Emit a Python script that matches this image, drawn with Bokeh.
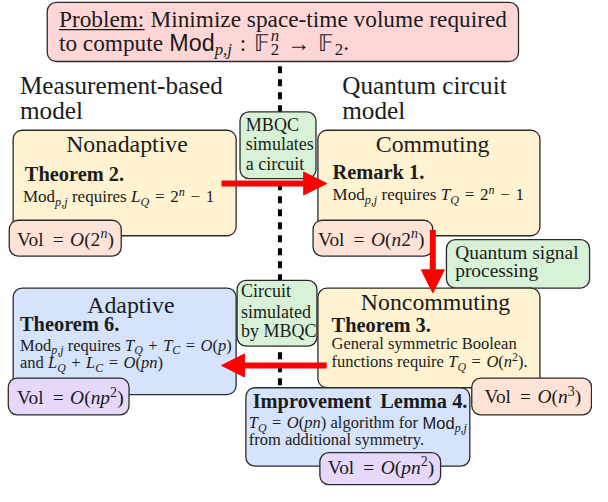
from bokeh.plotting import figure
from bokeh.models import Range1d, ColumnDataSource, Arrow, NormalHead
from bokeh.embed import file_html
from bokeh.resources import INLINE

# ---------------- reference frame (pixels of the original drawing, y downwards)
W_REF, H_REF = 608, 502
PW, PH = 592, 486
FS = (PW / W_REF + PH / H_REF) / 2  # font scale from drawing px to screen px
BASE_K = 0.35  # renderer places the em-box centre at y: shift so y is the baseline

# ---------------- boxes (left, right, top, bottom, colour)
box_left   = [48, 246, 13, 9, 326, 321, 458, 326, 13, 243, 484, 252, 328, 8]
box_right  = [532, 324, 242, 124, 554, 444, 605, 554, 242, 325, 607, 482, 452, 132]
box_top    = [2, 115, 134, 227, 134, 227, 247, 297, 297, 289, 390, 400, 467, 390]
box_bottom = [63, 184, 243, 264, 243, 264, 297, 400, 407, 357, 428, 481, 500, 428]
box_kind   = ["problem", "sim", "model", "vol", "model", "vol", "sim", "model",
              "adaptive", "sim", "vol", "adaptive", "vol2", "vol2"]
FILLS = {"problem": "#ffd6d6", "sim": "#d7f2d7", "model": "#fff3d2",
         "vol": "#ffe3d6", "adaptive": "#d5e3fc", "vol2": "#e5d8fb"}

# ---------------- red arrows (start -> end)
arrow_x0 = [227, 444, 335]
arrow_y0 = [189, 237, 377]
arrow_x1 = [335, 444, 227]
arrow_y1 = [189, 302, 377]

# ---------------- dashed divider
divider_x = [287, 287]
divider_y = [68, 400]

# ---------------- texts: (x, baseline y, size, align, segments)
# segment kinds: r roman, u underlined, b bold, i italic, s sans, op math operator,
# sub/isub subscripts, sup/isup superscripts; third item False = no advance
text_lines = [
    (60, 27, 24, "left", [("Problem:", "u"), (" Minimize space-time volume required", "r")]),
    (60, 52, 24, "left", [("to compute ", "r"), ("Mod", "s"), ("p,j", "isub"), (" : ", "op"),
                          ("\U0001D53D", "r"), ("2", "sub", False), ("n", "isup"),
                          (" \u2192 ", "op"), ("\U0001D53D", "r"), ("2", "sub"), (".", "r")]),
    (20, 97, 26, "left", [("Measurement-based", "r")]),
    (20, 123, 26, "left", [("model", "r")]),
    (351, 97, 26, "left", [("Quantum circuit", "r")]),
    (351, 123, 26, "left", [("model", "r")]),
    (252, 135, 18.5, "left", [("MBQC", "r")]),
    (252, 155, 18.5, "left", [("simulates", "r")]),
    (252, 175, 18.5, "left", [("a circuit", "r")]),
    (130, 157, 24.5, "center", [("Nonadaptive", "r")]),
    (25, 187, 21, "left", [("Theorem 2.", "b")]),
    (23, 209, 17.5, "left", [("Mod", "r"), ("p,j", "isub"), (" requires ", "r"), ("L", "i"), ("Q", "isub"),
                             (" = ", "op"), ("2", "r"), ("n", "isup"), (" \u2212 ", "op"), ("1", "r")]),
    (17, 254, 20, "left", [("Vol", "r"), (" = ", "op"), ("O", "i"), ("(2", "r"), ("n", "isup"), (")", "r")]),
    (444, 157, 24.5, "center", [("Commuting", "r")]),
    (341, 185, 21, "left", [("Remark 1.", "b")]),
    (341, 207, 17.5, "left", [("Mod", "r"), ("p,j", "isub"), (" requires ", "r"), ("T", "i"), ("Q", "isub"),
                              (" = ", "op"), ("2", "r"), ("n", "isup"), (" \u2212 ", "op"), ("1", "r")]),
    (326, 254, 20, "left", [("Vol", "r"), (" = ", "op"), ("O", "i"), ("(", "r"), ("n", "i"), ("2", "r"),
                            ("n", "isup"), (")", "r")]),
    (467, 267, 20, "left", [("Quantum signal", "r")]),
    (467, 286, 20, "left", [("processing", "r")]),
    (447, 320, 24.5, "center", [("Noncommuting", "r")]),
    (340, 343, 21, "left", [("Theorem 3.", "b")]),
    (340, 360, 17, "left", [("General symmetric Boolean", "r")]),
    (340, 379, 17, "left", [("functions require ", "r"), ("T", "i"), ("Q", "isub"), (" = ", "op"),
                            ("O", "i"), ("(", "r"), ("n", "i"), ("2", "sup"), (").", "r")]),
    (497, 416, 20, "left", [("Vol", "r"), (" = ", "op"), ("O", "i"), ("(", "r"), ("n", "i"), ("3", "sup"), (")", "r")]),
    (134, 323, 24.5, "center", [("Adaptive", "r")]),
    (20, 342, 21, "left", [("Theorem 6.", "b")]),
    (20, 362, 17, "left", [("Mod", "r"), ("p,j", "isub"), (" requires ", "r"), ("T", "i"), ("Q", "isub"),
                           (" + ", "op"), ("T", "i"), ("C", "isub"), (" = ", "op"), ("O", "i"),
                           ("(", "r"), ("p", "i"), (")", "r")]),
    (20, 380, 17, "left", [("and ", "r"), ("L", "i"), ("Q", "isub"), (" + ", "op"), ("L", "i"),
                           ("C", "isub"), (" = ", "op"), ("O", "i"), ("(", "r"), ("pn", "i"), (")", "r")]),
    (17, 417, 20, "left", [("Vol", "r"), (" = ", "op"), ("O", "i"), ("(", "r"), ("np", "i"), ("2", "sup"), (")", "r")]),
    (247, 307, 18.5, "left", [("Circuit", "r")]),
    (247, 328, 18.5, "left", [("simulated", "r")]),
    (247, 348, 18.5, "left", [("by MBQC", "r")]),
    (259, 421, 21, "left", [("Improvement", "b")]),
    (390, 421, 21, "left", [("Lemma 4.", "b")]),
    (255, 442, 17, "left", [("T", "i"), ("Q", "isub"), (" = ", "op"), ("O", "i"), ("(", "r"), ("pn", "i"),
                            (") algorithm for ", "r"), ("Mod", "s"), ("p,j", "isub")]),
    (255, 459, 17, "left", [("from additional symmetry.", "r")]),
    (336, 489, 20, "left", [("Vol", "r"), (" = ", "op"), ("O", "i"), ("(", "r"), ("pn", "i"), ("2", "sup"), (")", "r")]),
]

# ---------------- approximate glyph advances (per 1000 em) for layout
UP = "ABCDEFGHIJKLMNOPQRSTUVWXYZ"
LO = "abcdefghijklmnopqrstuvwxyz"
W_R = dict(zip(UP + LO, [722,667,667,722,611,556,722,722,333,389,722,611,889,722,722,556,722,667,556,611,722,722,944,722,722,611,
                         444,500,444,500,444,333,500,500,278,278,500,278,778,500,500,500,500,333,389,278,500,500,722,500,500,444]))
W_I = dict(zip(UP + LO, [611,611,667,722,611,611,722,722,333,444,667,556,833,667,722,611,722,611,500,556,722,611,833,611,556,556,
                         500,500,444,500,444,278,500,500,278,278,444,278,722,500,500,500,500,389,389,278,500,444,667,444,444,389]))
W_B = dict(zip(UP + LO, [722,667,722,722,667,611,778,778,389,500,778,667,944,722,778,611,778,722,556,667,722,722,1000,722,722,667,
                         500,556,444,556,444,333,500,556,278,333,556,278,833,556,500,556,556,444,389,333,556,500,722,500,500,444]))
W_S = dict(zip(UP + LO, [667,667,722,722,667,611,778,722,278,500,667,556,833,722,778,667,778,722,667,611,722,667,944,667,667,611,
                         556,556,500,556,556,278,556,556,222,222,500,222,833,556,556,556,556,333,500,278,556,500,722,500,500,500]))
COMMON = {" ": 250, ".": 250, ",": 250, ":": 278, "-": 333, "(": 333, ")": 333, "=": 564, "+": 564,
          "\u2212": 564, "\u2192": 1000, "\U0001D53D": 720}
for d in (W_R, W_I, W_B, W_S):
    for ch in "0123456789":
        d[ch] = 500
    d.update(COMMON)
W_OP = dict(W_R)
W_OP[" "] = 330  # math spacing around relations and binary operators

KINDS = {
    "r": ("Liberation Serif", "normal", 1.0, 0.0, W_R),
    "u": ("Liberation Serif", "normal", 1.0, 0.0, W_R),
    "op": ("Liberation Serif", "normal", 1.0, 0.0, W_OP),
    "b": ("Liberation Serif", "bold", 1.0, 0.0, W_B),
    "i": ("Liberation Serif", "italic", 1.0, 0.0, W_I),
    "s": ("Liberation Sans", "normal", 1.0, 0.0, W_S),
    "sub": ("Liberation Serif", "normal", 0.72, -0.2, W_R),
    "isub": ("Liberation Serif", "italic", 0.72, -0.2, W_I),
    "sup": ("Liberation Serif", "normal", 0.72, 0.4, W_R),
    "isup": ("Liberation Serif", "italic", 0.72, 0.4, W_I),
}


def seg_width(text, kind, size):
    table = KINDS[kind][4]
    sc = KINDS[kind][2]
    return sum(table.get(c, 500) for c in text) / 1000.0 * size * sc


tx, ty, tt, tf, tsz, tst = [], [], [], [], [], []
ul_x0, ul_x1, ul_y = [], [], []
for (lx, ly, size, align, segs) in text_lines:
    total = 0.0
    for seg in segs:
        if len(seg) < 3 or seg[2]:
            total += seg_width(seg[0], seg[1], size)
    cx = lx - total / 2 if align == "center" else lx
    for seg in segs:
        text, kind = seg[0], seg[1]
        font, style, sc, dy, table = KINDS[kind]
        w = seg_width(text, kind, size)
        lead = len(text) - len(text.lstrip(" "))
        body = text.strip(" ")
        x_draw = cx + seg_width(" " * lead, kind, size)
        if body:
            tx.append(x_draw)
            ty.append(H_REF - ly + dy * size + BASE_K * size * sc)
            tt.append(body)
            tf.append(font)
            tsz.append("%.1fpx" % (size * sc * FS))
            tst.append(style)
        if kind == "u":
            ul_x0.append(x_draw)
            ul_x1.append(x_draw + seg_width(body, kind, size))
            ul_y.append(H_REF - ly - 3)
        if len(seg) < 3 or seg[2]:
            cx += w

p = figure(width=PW, height=PH, x_range=Range1d(0, W_REF), y_range=Range1d(0, H_REF),
           output_backend="svg", toolbar_location=None, min_border=0,
           x_axis_type=None, y_axis_type=None)
p.grid.visible = False
p.outline_line_color = None
p.background_fill_color = "white"

# divider
p.line(x=divider_x, y=[H_REF - v for v in divider_y], line_width=4, line_dash="7 6",
       line_color="black")

# boxes
box_src = ColumnDataSource(dict(
    left=box_left, right=box_right,
    top=[H_REF - v for v in box_top], bottom=[H_REF - v for v in box_bottom],
    fill=[FILLS[k] for k in box_kind]))
p.quad(left="left", right="right", top="top", bottom="bottom", source=box_src,
       fill_color="fill", line_color="#2a2a2a", line_width=1.3, border_radius=9)

# texts
txt_src = ColumnDataSource(dict(x=tx, y=ty, text=tt, font=tf, size=tsz, style=tst))
p.text(x="x", y="y", text="text", source=txt_src, text_font="font", text_font_size="size",
       text_font_style="style", text_baseline="alphabetic", text_align="left",
       text_color="#1b1b1b")
ul_src = ColumnDataSource(dict(x0=ul_x0, x1=ul_x1, y0=ul_y, y1=ul_y))
p.segment(x0="x0", x1="x1", y0="y0", y1="y1", source=ul_src, line_color="#1b1b1b", line_width=1.2)

# arrows
arr_src = ColumnDataSource(dict(x0=arrow_x0, y0=[H_REF - v for v in arrow_y0],
                                x1=arrow_x1, y1=[H_REF - v for v in arrow_y1]))
p.add_layout(Arrow(x_start="x0", y_start="y0", x_end="x1", y_end="y1", source=arr_src,
                   line_color="#ff0000", line_width=6,
                   end=NormalHead(size=23, fill_color="#ff0000", line_color="#ff0000", line_width=1)))

open("out.html", "w").write(file_html(p, INLINE))
